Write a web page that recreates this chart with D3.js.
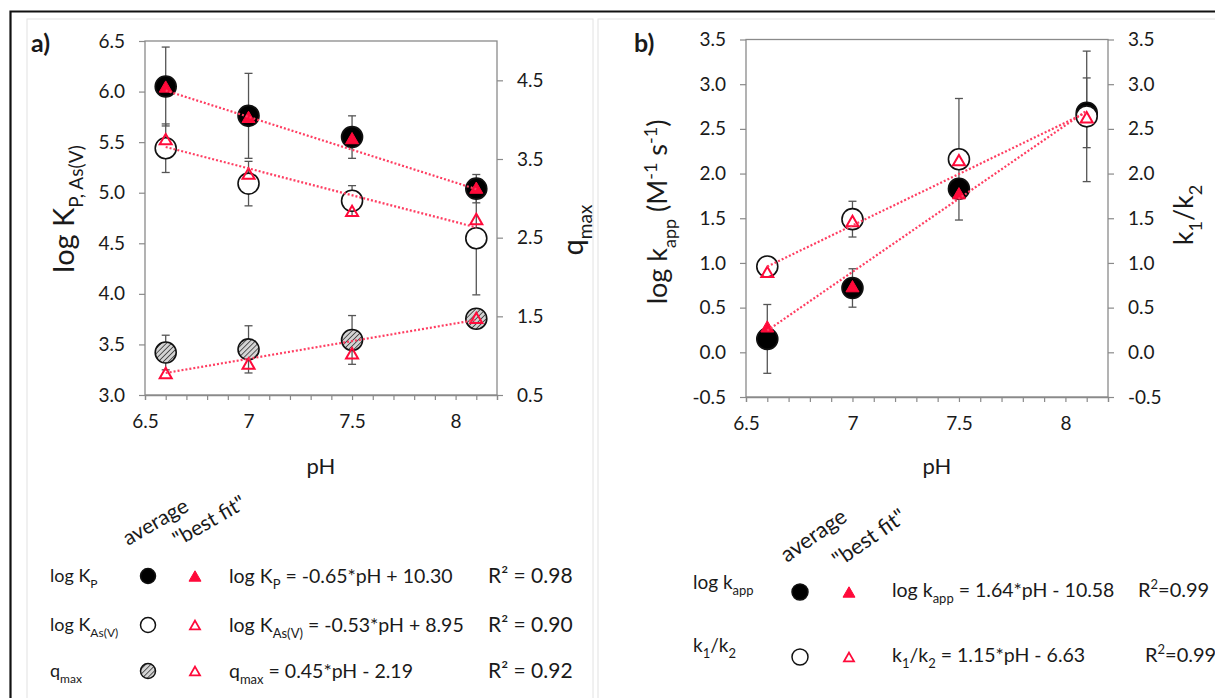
<!DOCTYPE html>
<html>
<head>
<meta charset="utf-8">
<script src="https://cdn.jsdelivr.net/npm/d3@7"></script>
<style>
  body { margin: 0; background: #fff; }
  svg { display: block; }
  text { font-family: Lato, "Open Sans", sans-serif; fill: #1a1a1a; }
</style>
</head>
<body>
<svg id="chart" width="1215" height="698"></svg>
<script>
// ---- data ----------------------------------------------------------
const pH = [6.6, 7.0, 7.5, 8.1];
const pHTickLabels = [6.5, 7, 7.5, 8];

// panel a) sorption constants and capacity
const logKpAvg   = [6.05, 5.76, 5.55, 5.04];
const logKpErr   = [0.39, 0.42, 0.21, 0.14];
const logKpFit   = [6.05, 5.75, 5.54, 5.05];
const logKAsAvg  = [5.44, 5.09, 4.92, 4.55];
const logKAsErr  = [0.24, 0.22, 0.15, 0.56];
const logKAsFit  = [5.53, 5.19, 4.82, 4.74];
const qmaxAvg    = [1.04, 1.08, 1.20, 1.47];
const qmaxErr    = [0.22, 0.30, 0.31, 0.04];
const qmaxFit    = [0.78, 0.90, 1.03, 1.48];
const slopesA     = [-0.65, -0.53, 0.45];
const interceptsA = [10.30, 8.95, -2.19];
const r2A         = [0.98, 0.90, 0.92];
const leftTicksA  = [3.0, 3.5, 4.0, 4.5, 5.0, 5.5, 6.0, 6.5];
const rightTicksA = [0.5, 1.5, 2.5, 3.5, 4.5];

// panel b) kinetics
const logKappAvg = [0.15, 0.72, 1.83, 2.68];
const logKappErr = [0.385, 0.215, 0.05, 0.39];
const logKappFit = [0.29, 0.74, 1.78, 2.70];
const k1k2Avg    = [0.96, 1.49, 2.16, 2.64];
const k1k2Err    = [0.03, 0.20, 0.68, 0.73];
const k1k2Fit    = [0.90, 1.47, 2.15, 2.63];
const slopesB     = [1.64, 1.15];
const interceptsB = [-10.58, -6.63];
const r2B         = [0.99, 0.99];
const ticksB      = [-0.5, 0.0, 0.5, 1.0, 1.5, 2.0, 2.5, 3.0, 3.5];

// ---- styles --------------------------------------------------------
const RED = "#ff0a3a";
const LINE_RED = "#ff3d61";
const AXIS = "#8a8a8a";
const ERR = "#555";

const svg = d3.select("#chart");

const defs = svg.append("defs");
const hatch = defs.append("pattern")
  .attr("id", "hatch").attr("patternUnits", "userSpaceOnUse")
  .attr("width", 3.6).attr("height", 3.6)
  .attr("patternTransform", "rotate(45)");
hatch.append("rect").attr("width", 3.6).attr("height", 3.6).attr("fill", "#d4d4d4");
hatch.append("line").attr("x1", 0).attr("y1", 0).attr("x2", 0).attr("y2", 3.6)
  .attr("stroke", "#2a2a2a").attr("stroke-width", 1.5);

// outer frame and faint chart-area borders
svg.append("rect").attr("x", 27).attr("y", 19).attr("width", 566).attr("height", 700)
  .attr("fill", "none").attr("stroke", "#e2e2e2").attr("stroke-width", 1);
svg.append("rect").attr("x", 598).attr("y", 19).attr("width", 640).attr("height", 700)
  .attr("fill", "none").attr("stroke", "#e2e2e2").attr("stroke-width", 1);
svg.append("path").attr("d", "M10.5,720 V11.5 H1230")
  .attr("fill", "none").attr("stroke", "#111").attr("stroke-width", 2.2);

// ---- helpers -------------------------------------------------------
// parts: [{t, sub, sup}] -> tspans with shifted baselines
function rich(text, parts, size, small) {
  text.attr("font-size", size);
  let shift = 0;
  parts.forEach(p => {
    const target = p.sub ? size * 0.32 : p.sup ? -size * 0.38 : 0;
    const ts = text.append("tspan").text(p.t).attr("dy", target - shift);
    if (p.sub || p.sup) ts.attr("font-size", small);
    shift = target;
  });
  return text;
}

function triPath(s) {
  const h = s * 0.866;
  return `M0,${-h / 2}L${s / 2},${h / 2}L${-s / 2},${h / 2}Z`;
}

function linePoints(slope, intercept) {
  return [d3.min(pH), d3.max(pH)].map(x => [x, slope * x + intercept]);
}

function fmt1(v) { return v.toFixed(1); }
function fmtX(v) { return String(v); }

function drawFrame(g, x, y, yR, leftTicks, rightTicks) {
  const [x0, x1] = x.range();
  const [y0, y1] = y.range();
  g.append("rect").attr("x", x0).attr("y", y1).attr("width", x1 - x0).attr("height", y0 - y1)
    .attr("fill", "none").attr("stroke", AXIS).attr("stroke-width", 1.3);

  const minor = d3.range(65, 83).map(d => d / 10);
  const xAxis = d3.axisBottom(x).tickValues(minor).tickSize(5)
    .tickFormat(d => pHTickLabels.some(t => Math.abs(t - d) < 1e-6) ? fmtX(d) : "")
    .tickPadding(15);
  const gx = g.append("g").attr("transform", `translate(0,${y0})`).call(xAxis);
  gx.select(".domain").attr("stroke", AXIS).attr("stroke-width", 1.3);
  gx.selectAll(".tick line").attr("stroke", AXIS).attr("stroke-width", 1.2);
  gx.selectAll(".tick text").attr("font-size", 19).attr("font-family", "Lato").attr("fill", "#1a1a1a");

  const yAxis = d3.axisLeft(y).tickValues(leftTicks).tickFormat(fmt1).tickSize(6).tickPadding(14);
  const gy = g.append("g").attr("transform", `translate(${x0},0)`).call(yAxis);
  gy.select(".domain").remove();
  gy.selectAll(".tick line").attr("stroke", AXIS).attr("stroke-width", 1.2);
  gy.selectAll(".tick text").attr("font-size", 19).attr("font-family", "Lato").attr("fill", "#1a1a1a");

  const yAxisR = d3.axisRight(yR).tickValues(rightTicks).tickFormat(fmt1).tickSize(6).tickPadding(14);
  const gyr = g.append("g").attr("transform", `translate(${x1},0)`).call(yAxisR);
  gyr.select(".domain").remove();
  gyr.selectAll(".tick line").attr("stroke", AXIS).attr("stroke-width", 1.2);
  gyr.selectAll(".tick text").attr("font-size", 19).attr("font-family", "Lato").attr("fill", "#1a1a1a");
}

function errorBars(g, x, y, avg, err) {
  const eb = g.append("g").attr("stroke", ERR).attr("stroke-width", 1.3);
  pH.forEach((p, i) => {
    const cx = x(p), top = y(avg[i] + err[i]), bot = y(avg[i] - err[i]);
    eb.append("line").attr("x1", cx).attr("x2", cx).attr("y1", top).attr("y2", bot);
    eb.append("line").attr("x1", cx - 4).attr("x2", cx + 4).attr("y1", top).attr("y2", top);
    eb.append("line").attr("x1", cx - 4).attr("x2", cx + 4).attr("y1", bot).attr("y2", bot);
  });
}

function circles(g, x, y, vals, fill, r) {
  g.append("g").selectAll("circle").data(vals).join("circle")
    .attr("cx", (d, i) => x(pH[i])).attr("cy", d => y(d)).attr("r", r)
    .attr("fill", fill).attr("stroke", "#111").attr("stroke-width", 1.6);
}

function triangles(g, x, y, vals, filled, s) {
  g.append("g").selectAll("path").data(vals).join("path")
    .attr("d", triPath(s))
    .attr("transform", (d, i) => `translate(${x(pH[i])},${y(d)})`)
    .attr("fill", filled ? RED : "none")
    .attr("stroke", RED).attr("stroke-width", filled ? 1 : 2);
}

function trend(g, x, y, slope, intercept) {
  g.append("path")
    .datum(linePoints(slope, intercept))
    .attr("d", d3.line().x(d => x(d[0])).y(d => y(d[1])))
    .attr("fill", "none").attr("stroke", LINE_RED).attr("stroke-width", 2.2)
    .attr("stroke-dasharray", "2 2");
}

function sign(v) { return v < 0 ? "- " + Math.abs(v).toFixed(2) : "+ " + v.toFixed(2); }

// ---- panel a) ------------------------------------------------------
{
  const g = svg.append("g");
  const x = d3.scaleLinear().domain([6.5, 8.2]).range([145, 497]);
  const y = d3.scaleLinear().domain([3.0, 6.5]).range([395, 41]);
  const yR = d3.scaleLinear().domain([0.5, 5.0]).range([395, 41]);
  drawFrame(g, x, y, yR, leftTicksA, rightTicksA);

  errorBars(g, x, yR, qmaxAvg, qmaxErr);
  errorBars(g, x, y, logKAsAvg, logKAsErr);
  errorBars(g, x, y, logKpAvg, logKpErr);

  circles(g, x, yR, qmaxAvg, "url(#hatch)", 10.5);
  circles(g, x, y, logKAsAvg, "#fff", 10.5);
  circles(g, x, y, logKpAvg, "#000", 10.5);
  triangles(g, x, y, logKpFit, true, 13);
  triangles(g, x, y, logKAsFit, false, 12);
  triangles(g, x, yR, qmaxFit, false, 12);

  trend(g, x, y, slopesA[0], interceptsA[0]);
  trend(g, x, y, slopesA[1], interceptsA[1]);
  trend(g, x, yR, slopesA[2], interceptsA[2]);

  g.append("text").attr("x", 31).attr("y", 52).attr("font-size", 25).attr("font-weight", 700).text("a)");

  rich(g.append("text").attr("transform", "translate(74,209) rotate(-90)").attr("text-anchor", "middle"),
    [{t: "log K"}, {t: "P, As(V)", sub: true}], 29, 19);
  rich(g.append("text").attr("transform", "translate(583,230) rotate(-90)").attr("text-anchor", "middle"),
    [{t: "q"}, {t: "max", sub: true}], 29, 19);
  g.append("text").attr("x", 321).attr("y", 474).attr("text-anchor", "middle").attr("font-size", 22).text("pH");

  // legend
  g.append("text").attr("transform", "translate(128,546) rotate(-30)").attr("font-size", 21).text("average");
  g.append("text").attr("transform", "translate(178,547) rotate(-30)").attr("font-size", 21).text("\"best fit\"");

  const rowsY = [576, 625, 671];
  const labels = [
    [{t: "log K"}, {t: "P", sub: true}],
    [{t: "log K"}, {t: "As(V)", sub: true}],
    [{t: "q"}, {t: "max", sub: true}]
  ];
  rowsY.forEach((ry, i) => {
    rich(g.append("text").attr("x", 50).attr("y", ry + 6), labels[i], 18, 12);
    g.append("circle").attr("cx", 148).attr("cy", ry).attr("r", 7.5)
      .attr("stroke", "#111").attr("stroke-width", 1.5)
      .attr("fill", i === 0 ? "#000" : i === 1 ? "#fff" : "url(#hatch)");
    g.append("path").attr("d", triPath(i === 0 ? 12 : 10))
      .attr("transform", `translate(195,${ry})`)
      .attr("fill", i === 0 ? RED : "none").attr("stroke", RED).attr("stroke-width", i === 0 ? 1 : 1.8);
    rich(g.append("text").attr("x", 229).attr("y", ry + 7),
      labels[i].concat([{t: ` = ${slopesA[i].toFixed(2)}*pH ${sign(interceptsA[i])}`}]), 19.5, 13);
    g.append("text").attr("x", 488).attr("y", ry + 7).attr("font-size", 21)
      .text(`R² = ${r2A[i].toFixed(2)}`);
  });
}

// ---- panel b) ------------------------------------------------------
{
  const g = svg.append("g");
  const x = d3.scaleLinear().domain([6.5, 8.2]).range([746, 1108]);
  const y = d3.scaleLinear().domain([-0.5, 3.5]).range([397, 39.5]);
  const yR = d3.scaleLinear().domain([-0.5, 3.5]).range([397, 39.5]);
  drawFrame(g, x, y, yR, ticksB, ticksB);

  errorBars(g, x, y, logKappAvg, logKappErr);
  errorBars(g, x, yR, k1k2Avg, k1k2Err);

  circles(g, x, y, logKappAvg, "#000", 10.5);
  triangles(g, x, y, logKappFit, true, 13);
  circles(g, x, yR, k1k2Avg, "#fff", 10.5);
  triangles(g, x, yR, k1k2Fit, false, 12);

  trend(g, x, y, slopesB[0], interceptsB[0]);
  trend(g, x, yR, slopesB[1], interceptsB[1]);

  g.append("text").attr("x", 634).attr("y", 52).attr("font-size", 25).attr("font-weight", 700).text("b)");

  rich(g.append("text").attr("transform", "translate(667,212) rotate(-90)").attr("text-anchor", "middle"),
    [{t: "log k"}, {t: "app", sub: true}, {t: " (M"}, {t: "-1", sup: true}, {t: " s"}, {t: "-1", sup: true}, {t: ")"}], 27, 18);
  rich(g.append("text").attr("transform", "translate(1193,215) rotate(-90)").attr("text-anchor", "middle"),
    [{t: "k"}, {t: "1", sub: true}, {t: "/k"}, {t: "2", sub: true}], 27, 18);
  g.append("text").attr("x", 937).attr("y", 474).attr("text-anchor", "middle").attr("font-size", 22).text("pH");

  // legend
  g.append("text").attr("transform", "translate(787,563) rotate(-35)").attr("font-size", 22).text("average");
  g.append("text").attr("transform", "translate(839,568) rotate(-35)").attr("font-size", 22).text("\"best fit\"");

  const rowsY = [592, 657];
  const labels = [
    [{t: "log k"}, {t: "app", sub: true}],
    [{t: "k"}, {t: "1", sub: true}, {t: "/k"}, {t: "2", sub: true}]
  ];
  const labelY = [589, 652];
  const r2X = [1138, 1145];
  rowsY.forEach((ry, i) => {
    rich(g.append("text").attr("x", 693).attr("y", labelY[i]), labels[i], 19, 13);
    g.append("circle").attr("cx", 800).attr("cy", ry).attr("r", 8)
      .attr("stroke", "#111").attr("stroke-width", 1.5).attr("fill", i === 0 ? "#000" : "#fff");
    g.append("path").attr("d", triPath(i === 0 ? 12 : 10))
      .attr("transform", `translate(849,${ry})`)
      .attr("fill", i === 0 ? RED : "none").attr("stroke", RED).attr("stroke-width", i === 0 ? 1 : 1.8);
    rich(g.append("text").attr("x", 892).attr("y", ry + 5),
      labels[i].concat([{t: ` = ${slopesB[i].toFixed(2)}*pH ${sign(interceptsB[i])}`}]), 19.5, 13);
    rich(g.append("text").attr("x", r2X[i]).attr("y", ry + 5),
      [{t: "R"}, {t: "2", sup: true}, {t: `=${r2B[i].toFixed(2)}`}], 20, 13);
  });
}
</script>
</body>
</html>
